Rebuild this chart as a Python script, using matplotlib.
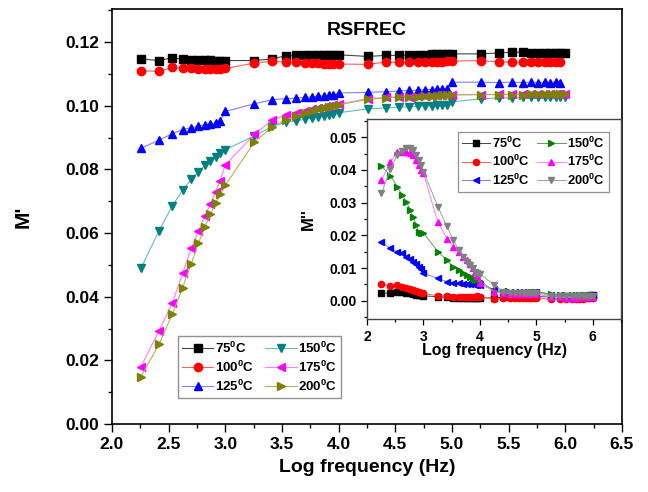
import numpy as np
import matplotlib
matplotlib.use("Agg")
import matplotlib.pyplot as plt
from matplotlib.ticker import MultipleLocator, FormatStrFormatter

plt.rcParams["font.family"] = ["Liberation Sans", "DejaVu Sans"]
plt.rcParams["font.weight"] = "bold"
plt.rcParams["mathtext.fontset"] = "custom"
plt.rcParams["mathtext.bf"] = "Liberation Sans:bold"
plt.rcParams["mathtext.rm"] = "Liberation Sans:bold"
plt.rcParams["mathtext.default"] = "bf"

# measurement frequencies (Hz)
freq_hz = [180, 260, 340, 420, 500, 580, 660, 740, 820, 900, 1000,
           1800, 2600, 3400, 4200, 5000, 5800, 6600, 7400, 8200, 9000, 10000,
           18000, 26000, 34000, 42000, 50000, 58000, 66000, 74000, 82000, 90000, 100000,
           180000, 260000, 340000, 420000, 500000, 580000, 660000, 740000, 820000, 900000, 1000000]

temps = ["75", "100", "125", "150", "175", "200"]

# real part of modulus, M'
m_real_75 = [0.1147, 0.1142, 0.1151, 0.1146, 0.1145, 0.1144, 0.1143, 0.1143, 0.1142, 0.1142, 0.1142,
             0.1142, 0.1147, 0.1157, 0.1158, 0.1159, 0.1159, 0.1159, 0.1160, 0.1160, 0.1160, 0.1160,
             0.1155, 0.1158, 0.1158, 0.1159, 0.1160, 0.1160, 0.1161, 0.1161, 0.1162, 0.1162, 0.1163,
             0.1163, 0.1166, 0.1168, 0.1168, 0.1167, 0.1167, 0.1167, 0.1167, 0.1166, 0.1166, 0.1166]
m_real_100 = [0.1110, 0.1108, 0.1121, 0.1118, 0.1117, 0.1116, 0.1116, 0.1116, 0.1116, 0.1116, 0.1117,
              0.1134, 0.1140, 0.1137, 0.1136, 0.1135, 0.1134, 0.1133, 0.1132, 0.1131, 0.1130, 0.1131,
              0.1130, 0.1137, 0.1137, 0.1136, 0.1136, 0.1136, 0.1136, 0.1137, 0.1138, 0.1139, 0.1140,
              0.1142, 0.1138, 0.1137, 0.1137, 0.1137, 0.1137, 0.1137, 0.1136, 0.1136, 0.1136]
m_real_125 = [0.0866, 0.0892, 0.0912, 0.0925, 0.0931, 0.0936, 0.0940, 0.0943, 0.0947, 0.0951, 0.0982,
              0.1006, 0.1019, 0.1022, 0.1024, 0.1026, 0.1028, 0.1030, 0.1031, 0.1033, 0.1034, 0.1040,
              0.1042, 0.1044, 0.1046, 0.1048, 0.1049, 0.1050, 0.1051, 0.1052, 0.1053, 0.1054, 0.1074,
              0.1074, 0.1073, 0.1074, 0.1073, 0.1074, 0.1073, 0.1074, 0.1073, 0.1074, 0.1073]
m_real_150 = [0.0489, 0.0607, 0.0685, 0.0735, 0.0769, 0.0792, 0.0813, 0.0826, 0.0839, 0.0850, 0.0862,
              0.0905, 0.0935, 0.0948, 0.0953, 0.0957, 0.0961, 0.0964, 0.0967, 0.0970, 0.0973, 0.0978,
              0.0990, 0.0993, 0.0995, 0.0997, 0.0998, 0.0999, 0.1000, 0.1001, 0.1002, 0.1003, 0.1012,
              0.1022, 0.1024, 0.1025, 0.1026, 0.1026, 0.1027, 0.1027, 0.1027, 0.1028, 0.1028, 0.1028]
m_real_175 = [0.0180, 0.0293, 0.0379, 0.0473, 0.0552, 0.0606, 0.0654, 0.0690, 0.0730, 0.0765, 0.0814,
              0.0910, 0.0955, 0.0970, 0.0978, 0.0985, 0.0990, 0.0994, 0.0997, 0.1000, 0.1002, 0.1005,
              0.1022, 0.1026, 0.1028, 0.1029, 0.1030, 0.1031, 0.1032, 0.1033, 0.1033, 0.1034, 0.1035,
              0.1035, 0.1036, 0.1036, 0.1037, 0.1037, 0.1037, 0.1038, 0.1038, 0.1038, 0.1038, 0.1038]
m_real_200 = [0.0149, 0.0250, 0.0345, 0.0428, 0.0503, 0.0568, 0.0620, 0.0659, 0.0693, 0.0722, 0.0750,
              0.0885, 0.0934, 0.0955, 0.0967, 0.0977, 0.0984, 0.0989, 0.0993, 0.0997, 0.1000, 0.1003,
              0.1020, 0.1025, 0.1027, 0.1028, 0.1029, 0.1030, 0.1031, 0.1032, 0.1033, 0.1033, 0.1034,
              0.1035, 0.1035, 0.1035, 0.1035, 0.1036, 0.1036, 0.1036, 0.1036, 0.1036, 0.1036, 0.1036]

# imaginary part of modulus, M''
m_imag_75 = [0.0024, 0.0022, 0.0028, 0.0026, 0.0024, 0.0022, 0.0020, 0.0018, 0.0017, 0.0016, 0.0015,
             0.0012, 0.0010, 0.0009, 0.0008, 0.0008, 0.0008, 0.0008, 0.0008, 0.0008, 0.0008, 0.0008,
             0.0009, 0.0010, 0.0010, 0.0010, 0.0010, 0.0011, 0.0011, 0.0011, 0.0011, 0.0012, 0.0012,
             0.0012, 0.0013, 0.0013, 0.0014, 0.0014, 0.0014, 0.0015, 0.0015, 0.0015, 0.0016, 0.0016]
m_imag_100 = [0.0051, 0.0045, 0.0048, 0.0043, 0.0040, 0.0036, 0.0033, 0.0030, 0.0026, 0.0024, 0.0022,
              0.0015, 0.0013, 0.0012, 0.0012, 0.0012, 0.0012, 0.0012, 0.0012, 0.0012, 0.0013, 0.0012,
              0.0005, 0.0007, 0.0008, 0.0008, 0.0008, 0.0008, 0.0008, 0.0007, 0.0007, 0.0007, 0.0007,
              0.0005, 0.0005, 0.0005, 0.0006, 0.0006, 0.0006, 0.0006, 0.0007, 0.0007, 0.0007, 0.0007]
m_imag_125 = [0.0179, 0.0160, 0.0150, 0.0145, 0.0135, 0.0127, 0.0119, 0.0112, 0.0104, 0.0096, 0.0084,
              0.0068, 0.0058, 0.0055, 0.0053, 0.0052, 0.0051, 0.0050, 0.0050, 0.0049, 0.0049, 0.0048,
              0.0035, 0.0030, 0.0028, 0.0027, 0.0027, 0.0027, 0.0027, 0.0027, 0.0028, 0.0028, 0.0028,
              0.0018, 0.0016, 0.0015, 0.0015, 0.0015, 0.0015, 0.0015, 0.0015, 0.0016, 0.0016, 0.0016]
m_imag_150 = [0.0412, 0.0383, 0.0349, 0.0323, 0.0303, 0.0278, 0.0257, 0.0232, 0.0211, 0.0206, 0.0208,
              0.0150, 0.0124, 0.0104, 0.0094, 0.0086, 0.0079, 0.0073, 0.0068, 0.0064, 0.0062, 0.0060,
              0.0030, 0.0027, 0.0026, 0.0025, 0.0025, 0.0025, 0.0025, 0.0025, 0.0026, 0.0027, 0.0028,
              0.0020, 0.0018, 0.0017, 0.0016, 0.0016, 0.0016, 0.0016, 0.0016, 0.0016, 0.0016, 0.0016]
m_imag_175 = [0.0369, 0.0423, 0.0456, 0.0456, 0.0456, 0.0453, 0.0446, 0.0430, 0.0415, 0.0400, 0.0390,
              0.0240, 0.0190, 0.0165, 0.0148, 0.0135, 0.0125, 0.0112, 0.0100, 0.0088, 0.0075, 0.0053,
              0.0028, 0.0022, 0.0020, 0.0019, 0.0019, 0.0019, 0.0019, 0.0019, 0.0019, 0.0019, 0.0020,
              0.0012, 0.0010, 0.0009, 0.0009, 0.0009, 0.0010, 0.0010, 0.0010, 0.0010, 0.0011, 0.0011]
m_imag_200 = [0.0329, 0.0402, 0.0446, 0.0458, 0.0466, 0.0468, 0.0460, 0.0446, 0.0430, 0.0415, 0.0395,
              0.0288, 0.0227, 0.0186, 0.0155, 0.0135, 0.0119, 0.0109, 0.0099, 0.0089, 0.0085, 0.0082,
              0.0048, 0.0028, 0.0025, 0.0024, 0.0024, 0.0024, 0.0024, 0.0024, 0.0024, 0.0024, 0.0025,
              0.0015, 0.0014, 0.0013, 0.0013, 0.0013, 0.0013, 0.0014, 0.0014, 0.0014, 0.0015, 0.0015]

log_f = np.log10(freq_hz)

real_series = [m_real_75, m_real_100, m_real_125, m_real_150, m_real_175, m_real_200]
imag_series = [m_imag_75, m_imag_100, m_imag_125, m_imag_150, m_imag_175, m_imag_200]

real_styles = [("s", "black", "#444444"), ("o", "red", "#ff6060"), ("^", "blue", "#8080ff"),
               ("v", "#008080", "#70b8b8"), ("<", "magenta", "#ff80ff"), (">", "#808000", "#b0b060")]
imag_styles = [("s", "black", "#444444"), ("o", "red", "#ff6060"), ("<", "blue", "#8080ff"),
               (">", "#008000", "#60a060"), ("^", "magenta", "#ff80ff"), ("v", "#808080", "#a0a0a0")]

fig = plt.figure(figsize=(6.48, 4.92), dpi=100)
ax = fig.add_axes([0.1728, 0.1382, 0.7870, 0.8429])

for vals, t, (mk, mc, lc) in zip(real_series, temps, real_styles):
    ax.plot(log_f[:len(vals)], vals, marker=mk, markersize=6, color=lc, linewidth=0.8,
            markerfacecolor=mc, markeredgecolor=mc, label=t + r"$^0$C")

ax.set_xlim(2.0, 6.5)
ax.set_ylim(0.0, 0.1303)
ax.xaxis.set_major_locator(MultipleLocator(0.5))
ax.xaxis.set_minor_locator(MultipleLocator(0.25))
ax.yaxis.set_major_locator(MultipleLocator(0.02))
ax.yaxis.set_minor_locator(MultipleLocator(0.01))
ax.xaxis.set_major_formatter(FormatStrFormatter("%.1f"))
ax.yaxis.set_major_formatter(FormatStrFormatter("%.2f"))
ax.tick_params(which="both", direction="out", top=False, right=False, labelsize=12.5, width=1)
ax.tick_params(which="major", length=5.5)
ax.tick_params(which="minor", length=3)
for s in ax.spines.values():
    s.set_linewidth(1.2)

ax.set_xlabel("Log frequency (Hz)", fontsize=14, fontweight="bold")
ax.set_ylabel("M'", fontsize=15, fontweight="bold")
ax.xaxis.set_label_coords(0.5, -0.085)
ax.yaxis.set_label_coords(-0.155, 0.5)
ax.text(0.5, 0.95, "RSFREC", transform=ax.transAxes, ha="center", va="center",
        fontsize=14, fontweight="bold")

leg = ax.legend(ncol=2, loc="lower left", bbox_to_anchor=(0.129, 0.063), borderaxespad=0,
                fontsize=9.5, fancybox=False, edgecolor="#777777", handlelength=2.4,
                handletextpad=0.1, columnspacing=0.9, labelspacing=0.3, borderpad=0.3)
leg.get_frame().set_linewidth(1.0)

# inset: imaginary part
ins = fig.add_axes([0.5664, 0.351, 0.3919, 0.4065])
for vals, t, (mk, mc, lc) in zip(imag_series, temps, imag_styles):
    ins.plot(log_f[:len(vals)], vals, marker=mk, markersize=4.5, color=lc, linewidth=0.7,
             markerfacecolor=mc, markeredgecolor=mc, label=t + r"$^0$C")
ins.set_xlim(2.0, 6.5)
ins.set_ylim(-0.0057, 0.0555)
ins.xaxis.set_major_locator(MultipleLocator(1))
ins.xaxis.set_minor_locator(MultipleLocator(0.5))
ins.yaxis.set_major_locator(MultipleLocator(0.01))
ins.yaxis.set_minor_locator(MultipleLocator(0.005))
ins.yaxis.set_major_formatter(FormatStrFormatter("%.2f"))
ins.tick_params(which="both", direction="out", top=False, right=False, labelsize=10, width=0.9)
ins.tick_params(which="major", length=4)
ins.tick_params(which="minor", length=2.5)
for s in ins.spines.values():
    s.set_linewidth(1.0)
    s.set_color("#444444")
ins.set_xlabel("Log frequency (Hz)", fontsize=11.5, fontweight="bold")
ins.set_ylabel("M''", fontsize=12, fontweight="bold")
ins.xaxis.set_label_coords(0.5, -0.12)
ins.yaxis.set_label_coords(-0.2, 0.5)
leg2 = ins.legend(ncol=2, loc="upper left", bbox_to_anchor=(0.358, 0.937), borderaxespad=0,
                  fontsize=9.3, fancybox=False, edgecolor="#777777", handlelength=2.2,
                  handletextpad=0.1, columnspacing=0.6, labelspacing=0.25, borderpad=0.3)
leg2.get_frame().set_linewidth(0.9)

fig.savefig("out.png", dpi=100)
